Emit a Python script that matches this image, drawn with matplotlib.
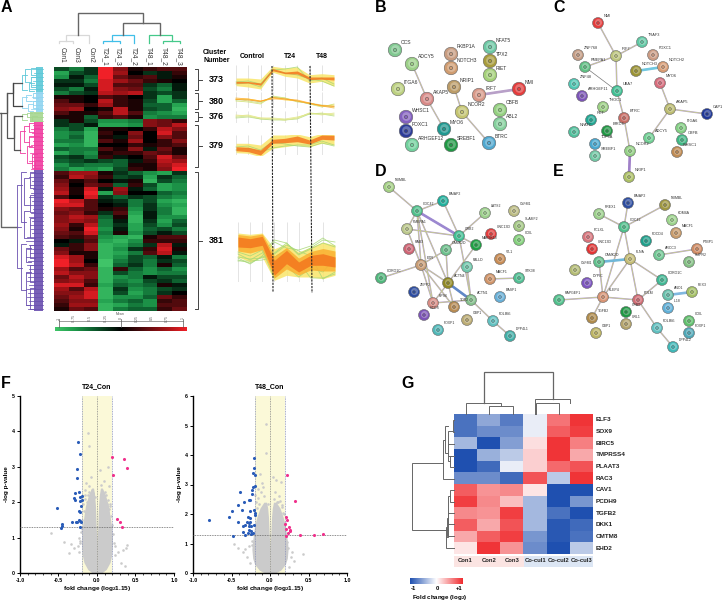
import matplotlib
matplotlib.use("Agg")
import matplotlib.pyplot as plt
from matplotlib.colors import LinearSegmentedColormap
from matplotlib.patches import Rectangle
import numpy as np

plt.rcParams["font.family"] = ["Liberation Sans", "DejaVu Sans"]
plt.rcParams["mathtext.fontset"] = "custom"
plt.rcParams["mathtext.bf"] = "Liberation Sans:bold"

W, H = 722, 600

# ---- panel A heatmap
a_cols = ["Con1", "Con3", "Con2", "T24_1", "T24_3", "T24_2", "T48_1", "T48_2", "T48_3"]
a_matrix = [
    [-3, -5, -2, 9, 5, 1, 2, 3, 3], [-7, -3, -2, 9, 6, 0, -2, -1, 2], [-6, -1, -4, 9, 4, 2, 3, -1, 1],
    [-2, -2, -5, 8, 6, 4, 2, 1, 0], [-1, -1, -3, 8, 3, 3, -2, -4, -1], [-3, -5, -1, 8, 5, 4, -3, -5, -1],
    [-5, -3, -2, 7, 6, 7, -2, -3, -2], [1, 1, 0, 3, 2, 0, -2, -7, -2], [3, 1, 0, 7, 2, 1, -3, -7, -4],
    [4, 4, 2, 6, 2, 1, -4, -4, -7], [5, 6, 0, 1, 7, 1, -3, -4, -8], [3, 1, 1, 3, 7, 3, -5, -6, -7],
    [1, 1, -4, 2, 3, 1, -6, -5, -5], [-2, 1, -3, -6, -6, -5, 5, 4, 2], [-2, -3, -1, -7, -7, -6, 5, 4, 7],
    [-5, -3, -7, 1, 1, 0, 2, 7, 5], [-6, -5, -8, 2, 0, 5, 0, 8, 3], [-6, -4, -8, 1, -1, 4, 0, 5, 3],
    [-5, -5, -8, 3, 1, 6, 0, 2, 5], [-7, -6, -8, 0, 0, 2, 1, 2, 3], [-4, -5, -5, 3, 1, 5, -1, 4, 1],
    [-7, -5, -6, 1, 2, 2, 4, 3, 1], [-3, -2, -5, 2, -1, 0, 3, 8, 4], [-4, -3, -2, -3, -4, -1, 2, 7, 6],
    [-6, -4, -5, -5, -4, 1, 1, 6, 8], [-5, -7, -6, -7, -3, 2, 1, 5, 9],
    [3, 6, 6, 1, -2, -4, -6, -7, -2], [2, 7, 5, 2, -3, -2, -7, -2, -4], [4, 1, 3, 0, -1, 1, -8, -3, -5],
    [5, 0, 4, 3, -4, 2, -3, -7, -6], [6, 1, 8, -1, 6, -1, -4, -7, -6], [7, 1, 9, -7, 5, 0, 0, -4, -5],
    [3, 0, 8, -2, -4, -2, -3, -5, -6], [9, 7, 3, -1, -2, -5, -3, -7, -8], [8, 8, 3, 0, -1, -5, -2, -6, -7],
    [5, 4, 3, 1, 2, -6, -2, -5, -8], [4, 5, 2, -2, 3, -7, -1, -5, -8], [5, 7, 6, -4, 1, -8, -1, -6, -6],
    [5, 6, 5, -5, -1, -8, -2, -7, -4], [6, 2, 7, -5, -2, -7, -3, -6, -3], [5, 1, 9, -6, -1, -7, -4, -3, -5],
    [4, 3, 8, -5, 1, -6, -3, -1, -3], [3, 2, 4, -6, -7, -8, 1, 3, 3], [0, -1, 3, -7, -8, -6, 2, 2, 2],
    [-1, 2, 5, -8, -7, -5, -2, 7, -1], [4, 2, 5, -8, -6, -2, 2, 8, 1], [5, 1, 1, -8, -7, -5, 3, 7, -1],
    [8, 6, 1, -8, -6, -3, -4, -1, -5], [9, 6, 0, -9, -5, -3, -5, -2, -3], [9, 7, 2, -9, -4, -2, -5, 1, -4],
    [6, 3, 4, -8, 2, -4, -6, -4, -6], [7, 5, 5, -8, -3, -5, -6, -5, -5], [4, 7, 5, -8, -6, -5, -1, -3, -3],
    [5, 6, 3, -8, -5, -6, -3, -2, -4], [8, 8, 2, -7, -4, -5, -4, 1, -1], [6, 3, 7, -8, -2, -6, -5, -3, -2],
    [5, 5, 8, -8, -3, -7, -5, -2, 0], [4, 6, 8, -8, -6, -6, -4, 4, 2], [3, 5, 5, -7, -5, -4, -6, 2, 3],
    [2, 6, 6, -8, -7, -5, -6, 3, 3], [1, 4, 3, -8, -5, -4, -4, 2, 4],
]
a_scale_labels = ["-1", "-0.75", "-0.5", "-0.25", "0", "0.25", "0.5", "0.75", "1"]

cluster_ids = ["373", "380", "376", "379", "381"]
cluster_top = [69, 93, 112, 125, 172]
cluster_bot = [90, 109, 121, 167, 309]

# ---- panel A profiles (one line per gene group, condition order as a_cols)
p373_lines = [
    [-0.4, -0.3, -0.6, 0.8, 0.9, 1.1, -0.3, 0.0, -0.6],
    [-0.6, -0.5, -0.9, 0.8, 0.5, 0.3, -0.1, -0.3, -0.8],
]
p373_outer = ([0.0, 0.0, -0.1, 1.17, 1.0, 1.1, 0.33, 0.43, 0.33], [-0.77, -0.9, -1.1, 0.57, 0.17, 0.0, -0.5, -0.33, -0.83])
p373_core = ([-0.33, -0.35, -0.5, 0.95, 0.6, 0.7, 0.1, 0.1, 0.1], [-0.53, -0.5, -0.72, 0.72, 0.43, 0.4, -0.15, -0.12, -0.2])
p380_lines = [
    [0.0, 0.05, -0.2, 0.3, 0.1, -0.1, -0.4, -0.6, -0.7],
    [0.1, -0.1, -0.3, 0.3, 0.2, -0.2, -0.3, -0.5, -0.6],
    [0.1, 0.1, -0.1, 0.2, 0.0, -0.1, -0.3, -0.6, -0.5],
    [-0.1, -0.2, -0.4, 0.4, 0.2, -0.1, -0.4, -0.7, -0.4],
    [0.2, 0.1, -0.1, 0.1, 0.1, 0.0, -0.3, -0.6, -0.8],
    [0.05, 0.0, -0.15, 0.25, 0.1, -0.1, -0.35, -0.55, -0.65],
]
p380_colors = ["#b8dc80", "#c8e080", "#ffd040", "#d0e070", "#ffb030", "#ff9a20"]
p376_lines = [
    [0.0, 0.1, -0.2, -0.2, -0.3, -0.1, 0.4, 0.3, 0.3],
    [0.1, 0.2, -0.1, -0.1, -0.2, 0.0, 0.3, 0.4, 0.2],
    [-0.1, 0.0, -0.2, -0.3, -0.3, -0.2, 0.3, 0.3, 0.1],
    [0.2, 0.1, -0.1, -0.2, -0.3, -0.1, 0.4, 0.2, 0.4],
]
p379_lines = [
    [-0.2, -0.1, -0.5, 0.3, 0.1, -0.1, -0.2, 0.2, -0.1],
    [-0.5, -0.3, -0.7, -0.3, -0.1, 0.0, 0.0, 0.4, 0.0],
]
p379_outer = ([0.17, 0.17, 0.0, 1.0, 1.0, 1.1, 0.83, 1.17, 1.17], [-0.77, -0.83, -1.17, -0.33, -0.17, 0.0, -0.17, 0.17, 0.0])
p379_core = ([-0.17, -0.23, -0.5, 0.57, 0.67, 0.9, 0.5, 1.0, 0.97], [-0.57, -0.67, -1.0, 0.17, 0.23, 0.33, 0.1, 0.57, 0.5])
p381_lines = [
    [-0.6, -1.2, -0.4, 1.0, 0.4, 0.2, 0.6, 1.4, 0.6],
    [-0.2, -0.8, -0.1, 1.2, 0.9, -0.3, 0.3, 0.9, 0.5],
    [-0.9, -0.9, -0.8, -0.5, 0.2, -1.0, -2.6, -2.6, -2.2],
    [0.0, -0.4, 0.2, -2.6, -1.4, -2.5, -1.6, -2.0, -0.6],
    [-0.5, -0.7, -0.6, -0.2, 0.7, 0.1, -0.4, -2.7, -2.0],
    [-0.8, -1.1, -0.5, -0.1, 0.9, -0.2, 0.4, 1.2, 1.0],
]
p381_outer = ([1.9, 1.77, 1.9, 0.33, 0.83, 0.0, 0.5, 1.0, 0.67], [-0.5, -1.0, -0.5, -2.83, -2.33, -2.5, -2.5, -2.67, -2.33])
p381_mid = ([1.75, 1.6, 1.8, -0.4, 0.45, -0.6, 0.05, 0.35, 0.1], [0.1, -0.1, 0.25, -2.6, -1.7, -2.3, -1.8, -1.9, -1.9])
p381_core = ([1.5, 1.33, 1.57, -0.83, 0.17, -1.0, -0.33, -0.17, -0.5], [0.5, 0.43, 0.67, -2.33, -1.17, -2.0, -1.33, -1.33, -1.5])

# ---- panel A left dendrogram
left_leaf_start = [36, 38, 35, 37, 36, 34, 38, 36, 34, 37, 35, 38, 36, 34, 37, 35, 36, 33, 37, 35, 38, 34, 36, 33, 37, 35,
                   35, 33, 36, 34, 37, 35, 33, 36, 34, 37, 35, 33, 36, 34, 35, 36, 31, 30, 33, 31, 34, 30, 32, 31, 33,
                   30, 32, 31, 33, 30, 32, 31, 33, 30, 32]
left_groups = [
    ("#5cc8d8", 67, 92, 36, [(22, 75, 90), (25, 69, 82), (29, 83, 91), (31, 68, 75), (31, 77, 87)]),
    ("#8fd4f0", 92, 112, 36, [(22, 97, 108), (26, 95, 101), (28, 104, 111), (33, 93, 98), (33, 101, 108)]),
    ("#a5d68f", 112, 122, 30, [(22, 114, 120), (27, 113, 117), (32, 116, 121)]),
    ("#f03da0", 122, 170, 34, [(20, 131, 153), (24, 126, 142), (27, 146, 163), (29, 123, 132), (29, 136, 147), (32, 154, 168), (34, 128, 136), (35, 160, 168)]),
    ("#6a50b0", 170, 311, 34, [(16.5, 185, 268), (21, 172, 222), (21, 244, 290), (24, 178, 205), (24, 211, 238), (26, 248, 262), (26, 272, 305),
                               (30, 172, 188), (30, 195, 212), (30, 218, 238), (30, 245, 258), (30, 265, 282), (30, 288, 309)]),
]

# ---- network panels
b_names = ["CCS", "ADCY5", "FKBP1A", "NOTCH3", "NFAT5", "TPX2", "RIET", "ITGA6", "AKAP5", "NRIP1", "IRF7", "NMI", "WHSC1",
           "NCOR2", "FOXC1", "MYO6", "CBFB", "ABL2", "ARHGEF12", "SREBF1", "BTRC"]
b_x = [395, 412, 451, 451, 490, 490, 490, 398, 427, 454, 479, 519, 406, 462, 406, 444, 500, 500, 412, 451, 489]
b_y = [50, 64, 54, 68, 47, 61, 75, 89, 99, 87, 95, 89, 117, 112, 131, 129, 110, 124, 145, 145, 143]
b_colors = ["#80c890", "#9cd088", "#c89c80", "#d09c70", "#6cc8a4", "#a89c3c", "#a4d078", "#bcd080", "#d88a88", "#bc9c68",
            "#d89888", "#e43c3c", "#8460c0", "#c4c470", "#2c3c98", "#209890", "#94d080", "#84d09c", "#70d09c", "#209844", "#50a8d0"]
b_edges = [("ADCY5", "AKAP5"), ("AKAP5", "MYO6"), ("NRIP1", "NCOR2"), ("NCOR2", "BTRC"), ("IRF7", "NMI")]
b_thick = [("IRF7", "NMI", "#b8a0c8")]

c_names = ["NMI", "IRF7", "TRAF3", "ZNF768", "FOXC1", "NOTCH3", "NOTCH2", "PMEPA1", "ZNF48", "MYO6", "UBA7", "ARHGEF11", "AKAP5",
           "CAP1", "THOC1", "BTRC", "RET", "NFATC", "BIRC6", "ADCY5", "ITGA6", "CBFB", "WHSC1", "TOP3A", "SREBF1", "NCOR2", "NRIP1"]
c_x = [598, 616, 642, 578, 653, 636, 663, 585, 574, 660, 617, 582, 670, 707, 603, 624, 591, 574, 607, 649, 681, 682, 677, 595, 595, 630, 629]
c_y = [23, 56, 42, 55, 55, 71, 67, 67, 84, 83, 91, 96, 109, 114, 107, 118, 120, 132, 131, 138, 128, 140, 152, 144, 156, 151, 177]
c_colors = ["#e43c3c", "#bcc47c", "#60c8a4", "#c49c84", "#cc9c84", "#9c9434", "#d89c74", "#60c084", "#50c8b4", "#d86c7c", "#40c094",
            "#7c54b8", "#bcbc70", "#203898", "#9cd084", "#c86c64", "#20a894", "#50c09c", "#209844", "#70d094", "#84d084", "#40b884",
            "#c08c54", "#48a8d0", "#70c8a4", "#94d084", "#acc064"]
c_edges = [("NMI", "IRF7"), ("IRF7", "TRAF3"), ("IRF7", "PMEPA1"), ("IRF7", "UBA7"), ("UBA7", "BTRC"), ("BTRC", "NCOR2"), ("NCOR2", "NRIP1"),
           ("NOTCH3", "NOTCH2"), ("MYO6", "AKAP5"), ("AKAP5", "CAP1"), ("AKAP5", "ADCY5")]
c_gray_edges = [("PMEPA1", "UBA7")]
c_thick = [("NOTCH3", "NOTCH2", "#70c8e0"), ("NCOR2", "NRIP1", "#a080c8")]

d_names = ["NUMBL", "BAIAP2", "CDC42", "LATS2", "OLFM1", "SLAMF2", "PMEPA1", "UNC13D", "GRB2", "COIL", "MAP3K13", "RAB3", "CAMK2D", "VIL1",
           "EZR", "PALLD", "CORO1C", "ACTN4", "MACF1", "STK38", "ZEPP2", "BASP1", "ACTN1", "RPS6", "TOP2", "HCCS", "GBP1", "PDLIM5", "FOXP1", "DPP4L1"]
d_x = [389, 443, 417, 485, 514, 519, 407, 491, 459, 519, 476, 409, 446, 500, 421, 467, 381, 448, 490, 519, 414, 500, 471, 433, 454, 424, 467, 493, 438, 510]
d_y = [187, 201, 211, 213, 211, 226, 229, 234, 236, 240, 245, 249, 250, 259, 265, 267, 278, 283, 279, 278, 292, 297, 300, 303, 307, 315, 320, 321, 330, 336]
d_colors = ["#a4d084", "#20b09c", "#50c08c", "#9cd08c", "#bcbc84", "#a4c884", "#bcc88c", "#e43c3c", "#40c094", "#84d07c", "#20a044", "#d06474",
            "#6cc08c", "#c88c54", "#c89c74", "#70c8ac", "#50b87c", "#908824", "#d09468", "#50c094", "#2c4ca0", "#68b0d8", "#84c08c", "#d88c84",
            "#b88c54", "#7c54b8", "#bcac74", "#60c0c0", "#50b8b8", "#40b0a8"]
d_edges = [("NUMBL", "CDC42"), ("CDC42", "BAIAP2"), ("CDC42", "GRB2"), ("BAIAP2", "GRB2"), ("CDC42", "PMEPA1"), ("PMEPA1", "GRB2"), ("CDC42", "EZR"),
           ("PMEPA1", "EZR"), ("CDC42", "ACTN4"), ("LATS2", "GRB2"), ("GRB2", "MAP3K13"), ("GRB2", "CAMK2D"), ("CAMK2D", "EZR"), ("CAMK2D", "ACTN4"),
           ("MAP3K13", "ACTN4"), ("EZR", "CORO1C"), ("EZR", "ACTN4"), ("EZR", "RPS6"), ("ACTN4", "ACTN1"), ("PALLD", "ACTN1"), ("ACTN4", "TOP2"),
           ("RPS6", "ACTN1"), ("RPS6", "ACTN4"), ("ACTN1", "PDLIM5"), ("PDLIM5", "DPP4L1"), ("MACF1", "STK38"), ("EZR", "TOP2"), ("GRB2", "ACTN1"), ("CDC42", "RPS6")]
d_thick = [("CDC42", "GRB2", "#9c88d0"), ("ACTN4", "ACTN1", "#6088c8")]

e_names = ["BAIAP2", "NUMBL", "PREX1", "CDC42", "KDM4A", "MACF1", "PCLXL", "PDCD4", "UNC13D", "FLNA", "ARCC3", "PTBP1", "SLIPR2", "CAMK2D", "OLFM1",
           "CORO1C", "DYPIC", "PEX3", "ANO1", "RAPGEF1", "KLEP4", "POLM", "IL18", "CFBT", "TGFB2", "URL1", "COIL", "FOXP1", "GBP1", "PDLIM5", "DPP4L2"]
e_x = [628, 665, 599, 624, 672, 676, 588, 646, 592, 630, 659, 697, 689, 599, 575, 662, 587, 692, 668, 559, 603, 638, 668, 626, 592, 626, 689, 689, 596, 657, 673]
e_y = [203, 205, 214, 227, 220, 233, 237, 241, 249, 259, 255, 249, 262, 262, 270, 280, 283, 292, 295, 300, 297, 300, 308, 312, 318, 324, 321, 333, 333, 328, 347]
e_colors = ["#2c4ca0", "#a09840", "#9cd08c", "#50c08c", "#9cd48c", "#c89c6c", "#d8747c", "#20a08c", "#e43434", "#c4bc74", "#70c894", "#d08c64",
            "#84c084", "#60c08c", "#b4bc74", "#40b894", "#7c54c0", "#a4c064", "#68c0ac", "#50c08c", "#d89474", "#d06c74", "#60b0d8", "#209844",
            "#b08c4c", "#b4a46c", "#60c06c", "#50a8b8", "#bcb464", "#60c0c0", "#40b8b8"]
e_edges = [("BAIAP2", "CDC42"), ("PREX1", "CDC42"), ("NUMBL", "CDC42"), ("CDC42", "FLNA"), ("CDC42", "KLEP4"), ("CAMK2D", "FLNA"), ("CAMK2D", "KLEP4"),
           ("FLNA", "KLEP4"), ("FLNA", "POLM"), ("FLNA", "CORO1C"), ("CORO1C", "POLM"), ("KLEP4", "POLM"), ("KLEP4", "RAPGEF1"), ("KLEP4", "TGFB2"),
           ("ARCC3", "PTBP1"), ("ANO1", "PEX3"), ("POLM", "PDLIM5"), ("PDLIM5", "DPP4L2")]
e_thick = [("CAMK2D", "FLNA", "#70b8d8"), ("ANO1", "PEX3", "#80b8e0")]

# ---- panel F volcano
t24_blue_x = [-0.25, -0.22, -0.255, -0.255, -0.24, -0.28, -0.30, -0.285, -0.2, -0.22, -0.2, -0.22, -0.21, -0.515, -0.24, -0.22, -0.46, -0.455, -0.47, -0.32, -0.275, -0.24, -0.22, -0.21, -0.255, -0.22]
t24_blue_y = [3.70, 3.35, 2.93, 2.68, 2.29, 2.26, 2.11, 2.06, 2.18, 2.16, 2.06, 2.04, 1.88, 1.85, 1.76, 1.72, 1.39, 1.34, 1.28, 1.44, 1.45, 1.5, 1.47, 1.43, 1.43, 1.29]
t24_pink_x = [0.2, 0.355, 0.39, 0.205, 0.265, 0.3, 0.32]
t24_pink_y = [3.28, 3.21, 2.96, 2.76, 1.53, 1.43, 1.31]
t24_gray_x = [-0.12, -0.11, -0.6, -0.43, -0.34, -0.37, -0.30, -0.25, -0.22, 0.385, 0.375, 0.34, 0.36, 0.31, 0.145, 0.04, -0.08, -0.1, -0.14, -0.06, 0.05, 0.09, -0.16, -0.12, 0.12, 0.15, 0.1, -0.03, 0.17, 0.23, 0.27, -0.24,
              -0.18, -0.15, -0.13, -0.17, -0.19, -0.1, -0.08, -0.05, 0.06, 0.08, 0.1, 0.13, 0.16, 0.18, 0.19, 0.14, -0.21, -0.22, -0.23, 0.21, 0.22, 0.24, -0.16, 0.17, -0.19, 0.18]
t24_gray_y = [3.96, 3.59, 1.13, 0.87, 0.83, 0.56, 0.7, 0.75, 0.9, 0.8, 0.7, 0.65, 0.2, 0.27, 3.0, 2.9, 2.7, 2.45, 2.55, 2.35, 2.5, 2.6, 2.35, 2.2, 2.2, 2.45, 2.05, 2.15, 1.95, 0.75, 0.6, 1.0,
              1.95, 2.1, 2.0, 1.75, 1.5, 2.3, 2.15, 2.25, 2.25, 2.1, 2.3, 1.95, 1.8, 1.6, 1.35, 2.05, 1.15, 0.85, 0.6, 1.1, 0.85, 0.5, 2.2, 1.9, 1.25, 1.2]
t24_levels = [0, 0.1, 0.3, 0.5, 0.8, 1.0, 1.3, 1.6, 1.9, 2.2, 2.4]
t24_outer = [0.06, 0.12, 0.17, 0.19, 0.2, 0.2, 0.19, 0.17, 0.15, 0.11, 0.07]
t24_inner = [0, 0, 0, 0, 0.0, 0.003, 0.01, 0.015, 0.02, 0.03, 0.045]

t48_blue_x = [-0.21, -0.21, -0.225, -0.2, -0.2, -0.22, -0.24, -0.235, -0.39, -0.34, -0.42, -0.275, -0.255, -0.5, -0.365, -0.26, -0.53, -0.21, -0.2, -0.2, -0.79, -0.41, -0.285, -0.265, -0.3, -0.275, -0.255, -0.32, -0.35, -0.355, -0.33, -0.485, -0.275, -0.245, -0.21, -0.275, -0.245, -0.25, -0.29, -0.22]
t48_blue_y = [3.91, 3.55, 3.38, 3.32, 2.96, 2.93, 2.82, 2.68, 2.75, 2.41, 2.32, 2.48, 2.49, 2.09, 2.13, 2.09, 1.9, 2.14, 2.05, 1.96, 1.78, 1.72, 1.91, 1.86, 1.74, 1.71, 1.74, 1.63, 1.58, 1.38, 1.29, 1.27, 1.58, 1.6, 1.63, 1.46, 1.41, 1.32, 1.35, 1.35]
t48_pink_x = [0.22, 0.325, 0.21, 0.22, 0.2, 0.205, 0.245, 0.26, 0.23, 0.21, 0.26, 0.385, 0.57, 0.69]
t48_pink_y = [3.32, 2.44, 1.9, 1.8, 1.67, 1.49, 1.55, 1.46, 1.35, 1.27, 1.41, 1.28, 1.29, 1.33]
t48_gray_x = [-0.05, -0.05, -0.13, -0.1, 0.04, 0.08, -0.16, -0.19, 0.07, 0.14, -0.08, -0.03, 0.11, 0.43, 0.31, 0.28, 0.21, -0.32, -0.35, -0.47, -0.42, -0.3, -0.26, -0.24, 0.25, 0.16, 0.18,
              -0.18, -0.15, -0.12, -0.09, -0.17, 0.05, 0.09, 0.12, 0.15, 0.19, 0.17, -0.24, -0.27, 0.24, 0.27, -0.2, 0.22, -0.14, 0.13]
t48_gray_y = [5.06, 4.06, 3.36, 3.05, 3.25, 3.15, 2.85, 2.65, 2.75, 3.1, 2.6, 2.35, 2.4, 0.66, 0.4, 0.72, 0.9, 0.8, 0.7, 1.0, 0.85, 0.55, 0.35, 0.95, 0.2, 2.25, 2.0,
              2.4, 2.55, 2.75, 2.9, 2.2, 2.5, 2.4, 2.6, 2.3, 1.7, 2.05, 1.1, 0.9, 0.85, 0.55, 1.25, 1.05, 2.35, 2.45]
t48_levels = [0, 0.1, 0.3, 0.5, 0.8, 1.0, 1.3, 1.6, 1.9, 2.2, 2.4]
t48_outer = [0.07, 0.14, 0.2, 0.225, 0.235, 0.23, 0.215, 0.2, 0.17, 0.13, 0.08]
t48_inner = [0, 0, 0, 0, 0.0, 0.003, 0.01, 0.015, 0.02, 0.03, 0.045]

# ---- panel G heatmap
g_genes = ["ELF3", "SOX9", "BIRC5", "TMPRSS4", "PLAAT3", "RAC3", "CAV1", "PCDH9", "TGFB2", "DKK1", "CMTM8", "EHD2"]
g_samples = ["Con1", "Con2", "Con3", "Co-cul1", "Co-cul2", "Co-cul3"]
g_matrix = [
    [-0.8, -0.5, -0.75, -0.1, 0.65, 0.95],
    [-0.8, -0.65, -0.65, -0.1, 0.75, 0.9],
    [-0.4, -1, -0.55, 0.15, 0.95, 0.6],
    [-1, -0.45, -0.3, 0.22, 0.95, 0.4],
    [-1, -0.85, -0.1, 0.22, 0.7, 0.8],
    [-0.65, -0.65, -0.85, 0.8, -0.3, 0.95],
    [0.75, 0.5, 0.55, 0.12, -1, -1],
    [0.9, 0.55, 0.3, -0.4, -1, -0.6],
    [0.55, 0.5, 0.9, -0.4, -0.8, -1],
    [0.75, 0.4, 0.8, -0.4, -0.95, -0.85],
    [0.4, 0.75, 0.9, -0.6, -0.95, -0.8],
    [0.12, 0.95, 0.5, -0.65, -1, -0.3],
]


def px_axes(fig, x0, y0, x1, y1):
    return fig.add_axes([x0 / W, 1 - y1 / H, (x1 - x0) / W, (y1 - y0) / H])


def link(ax, x0, x1, y_top, y0, y1, color, lw=0.9):
    ax.plot([x0, x0, x1, x1], [y0, y_top, y_top, y1], color=color, lw=lw, solid_joinstyle="miter", zorder=3)


def profile(fig, x0, x1, y_mid, half, lines=(), line_colors=None, outer=None, core=None, mid=None):
    pax = px_axes(fig, x0, y_mid - half, x1, y_mid + half)
    pax.set_xlim(0, 8)
    pax.set_ylim(-half / 10, half / 10)
    pax.axis("off")
    xs = np.arange(9)
    pax.vlines(xs, -half / 10, half / 10, color="#e4e4e4", lw=0.7, zorder=0)
    if outer:
        pax.fill_between(xs, outer[1], outer[0], color="#f8e66a", alpha=0.85, lw=0, zorder=1)
    for i, vals in enumerate(lines):
        col = line_colors[i] if line_colors else "#a8d878"
        pax.plot(xs, vals, color=col, lw=0.6, alpha=0.85, zorder=2, clip_on=False)
    if mid:
        pax.fill_between(xs, mid[1], mid[0], color="#fbb030", alpha=0.85, lw=0, zorder=2.5)
    if core:
        pax.fill_between(xs, core[1], core[0], color="#f4761e", alpha=0.85, lw=0, zorder=3)


def network(ax, names, xs, ys, colors, edges, size, fs, gray_edges=(), thick=()):
    pos = dict(zip(names, zip(xs, ys)))
    for a, b in edges:
        xa, ya = pos[a]
        xb, yb = pos[b]
        ax.plot([xa, xb], [ya, yb], color="#b8a0d8", lw=1.1, zorder=2, solid_capstyle="butt")
        ax.plot([xa, xb], [ya, yb], color="#c8d878", lw=0.45, zorder=2.1, solid_capstyle="butt")
    for a, b in gray_edges:
        ax.plot([pos[a][0], pos[b][0]], [pos[a][1], pos[b][1]], color="#777777", lw=0.5, zorder=2)
    for a, b, col in thick:
        ax.plot([pos[a][0], pos[b][0]], [pos[a][1], pos[b][1]], color=col, lw=1.9, zorder=2.2, solid_capstyle="butt")
    ys_up = [y - size ** 0.5 * 0.14 for y in ys]
    ax.scatter(xs, ys, s=size, c=colors, edgecolors="#666666", linewidths=0.4, zorder=4)
    ax.scatter(xs, ys_up, s=size * 0.42, c="white", alpha=0.28, linewidths=0, zorder=5)
    ax.scatter(xs, ys, s=size * 0.06, c=colors, edgecolors="#444444", linewidths=0.3, zorder=6)
    for n, x, y in zip(names, xs, ys):
        ax.text(x + 6, y - 7, n, fontsize=fs, color="#333333", va="center", ha="left", zorder=7)


def volcano(fig, x0, y0, x1, y1, title, ymax, levels, outer, inner, gx, gy, bx, by, px, py, thresh):
    ax = px_axes(fig, x0, y0, x1, y1)
    ax.set_xlim(-1, 1)
    ax.set_ylim(0, ymax)
    ax.axvspan(-0.2, 0.2, color="#fbf9d8", lw=0, zorder=0)
    levels = np.array(levels)
    outer = np.array(outer)
    inner = np.array(inner)
    ax.fill_betweenx(levels, -outer, -inner, color="#cbcbcb", lw=0, zorder=1)
    ax.fill_betweenx(levels, inner, outer, color="#cbcbcb", lw=0, zorder=1)
    ax.scatter(gx, gy, s=3.5, c="#cbcbcb", linewidths=0, zorder=2)
    ax.axvline(-0.2, color="#8890b8", lw=0.6, ls=(0, (1, 1)), zorder=3)
    ax.axvline(0.2, color="#8890b8", lw=0.6, ls=(0, (1, 1)), zorder=3)
    ax.axvline(0, color="#888888", lw=0.6, ls=(0, (1, 1)), zorder=3)
    ax.axhline(thresh, color="#666666", lw=0.6, ls=(0, (1, 1)), zorder=3)
    ax.scatter(bx, by, s=5, c="#2a5cb8", linewidths=0, zorder=4)
    ax.scatter(px, py, s=5, c="#f0308c", linewidths=0, zorder=4)
    for side in ["top", "right"]:
        ax.spines[side].set_visible(False)
    for side in ["left", "bottom"]:
        ax.spines[side].set_linewidth(1.0)
    ax.set_xticks([-1, -0.5, 0, 0.5, 1])
    ax.set_xticklabels(["-1.0", "-0.5", "0.0", "0.5", "1.0"])
    ax.set_xticks(np.arange(-1, 1.01, 0.1), minor=True)
    ax.set_yticks(range(ymax + 1))
    ax.tick_params(labelsize=3.8, length=2, width=0.7, pad=1.5)
    ax.tick_params(which="minor", length=1.2, width=0.5)
    for t in ax.get_xticklabels() + ax.get_yticklabels():
        t.set_fontweight("bold")
    ax.set_title(title, fontsize=5, fontweight="bold", pad=6)
    ax.set_xlabel(r"fold change (log$\mathbf{_2}$1.15)", fontsize=4.6, fontweight="bold", labelpad=1)
    ax.set_ylabel("-log p-value", fontsize=4.6, fontweight="bold", labelpad=2)


fig = plt.figure(figsize=(7.22, 6.0), dpi=100)
bg = fig.add_axes([0, 0, 1, 1])
bg.set_xlim(0, W)
bg.set_ylim(H, 0)
bg.axis("off")

# panel letters
for letter, lx, ly in [("A", 1, 7), ("B", 375, 7), ("C", 553, 7), ("D", 375, 172), ("E", 553, 172), ("F", 1, 383), ("G", 401, 383)]:
    bg.text(lx, ly, letter, fontsize=11.5, fontweight="bold", va="center", ha="left")

# A heatmap, mid greens and reds stay dark as in the source scale
rg = LinearSegmentedColormap.from_list("rg", [(0.0, "#40c468"), (0.14, "#1f9c4c"), (0.3, "#0c5a2c"), (0.5, "#000000"),
                                              (0.7, "#620c10"), (0.86, "#aa1418"), (1.0, "#f02028")])
hax = px_axes(fig, 54, 67, 187, 311)
hax.imshow(a_matrix, cmap=rg, vmin=-9, vmax=9, aspect="auto", interpolation="nearest")
hax.axis("off")

col_x = [62, 76, 91, 105, 118, 134, 149, 164, 179]
for name, x in zip(a_cols, col_x):
    bg.text(x, 47, name, fontsize=4.8, rotation=270, ha="center", va="top", color="#333333")

# A top dendrogram
link(bg, 59, 73, 41, 43, 43, "#d8d8d8")
link(bg, 66, 89, 35, 41, 43, "#d8d8d8")
link(bg, 103, 120, 41, 43, 43, "#40bfe8")
link(bg, 112, 134, 35, 41, 43, "#40bfe8")
link(bg, 163, 180, 41, 43, 43, "#45c98a")
link(bg, 149, 172, 35, 43, 41, "#45c98a")
link(bg, 123, 160, 23, 35, 35, "#666666", 1.0)
link(bg, 78, 143, 13, 35, 23, "#666666", 1.0)

# A left dendrogram
for color, top, bot, fill_x, brackets in left_groups:
    bg.add_patch(Rectangle((fill_x, top), 43 - fill_x, bot - top, color=color, alpha=0.9, lw=0, zorder=1))
    for x, y0, y1 in brackets:
        bg.plot([x + 5, x, x, x + 5], [y0, y0, y1, y1], color=color, lw=0.6, zorder=2)
row_h = (311 - 67) / len(a_matrix)
group_color = [next(g[0] for g in left_groups if g[1] <= 67 + (i + 0.5) * row_h < g[2]) for i in range(len(a_matrix))]
for i, sx in enumerate(left_leaf_start):
    yy = 67 + (i + 0.5) * row_h
    bg.plot([sx - 4, 43], [yy, yy], color=group_color[i], lw=0.55, zorder=2)
bg.plot([0, 1, 1, 16.5], [113, 113, 227, 227], color="#666666", lw=1.0, zorder=3)
bg.plot([1, 7, 7, 13, 13, 22], [113, 113, 93, 93, 83, 83], color="#555555", lw=0.9, zorder=3)
bg.plot([13, 13, 22], [83, 106, 106], color="#444444", lw=0.9, zorder=3)
bg.plot([7, 7, 14, 14, 22], [93, 138, 138, 116, 116], color="#555555", lw=0.9, zorder=3)
bg.plot([14, 14, 20], [116, 150, 150], color="#555555", lw=0.9, zorder=3)
bg.plot([16.5, 21], [227, 227], color="#6a50b0", lw=0.6, zorder=3)

# A cluster brackets
bg.text(203, 52, "Cluster", fontsize=5, fontweight="bold", va="center")
bg.text(203, 60, "Number", fontsize=5, fontweight="bold", va="center")
for cid, top, bot in zip(cluster_ids, cluster_top, cluster_bot):
    mid_y = (top + bot) / 2
    bg.plot([195, 198, 198, 195], [top, top, bot, bot], color="#444444", lw=0.7)
    bg.plot([198, 202], [mid_y, mid_y], color="#444444", lw=0.7)
    bg.text(209, mid_y, cid, fontsize=6.5, fontweight="bold", va="center")
for label, lx in [("Control", 252), ("T24", 290), ("T48", 322)]:
    bg.text(lx, 56, label, fontsize=5, fontweight="bold", ha="center", va="center")

# A profiles
profile(fig, 236, 334, 78, 13, p373_lines, None, p373_outer, p373_core)
profile(fig, 236, 334, 100, 8, p380_lines, p380_colors)
profile(fig, 236, 334, 117, 6, p376_lines, ["#c8e080", "#e0e880", "#b8dc80", "#e8e890"])
profile(fig, 236, 334, 145, 10, p379_lines, None, p379_outer, p379_core)
profile(fig, 238, 335, 252, 30, p381_lines, None, p381_outer, p381_core, p381_mid)
bg.set_zorder(5)
bg.patch.set_visible(False)
bg.plot([272, 273], [66, 292], color="#222222", lw=0.8, ls=(0, (2, 1)), zorder=9)
bg.plot([310, 312], [66, 293], color="#222222", lw=0.8, ls=(0, (2, 1)), zorder=9)

# A colour scale
sax = px_axes(fig, 55, 327, 187, 331)
sax.imshow([np.linspace(-9, 9, 256)], cmap=rg, vmin=-9, vmax=9, aspect="auto")
sax.axis("off")
bg.plot([59, 183], [321, 321], color="#777777", lw=0.5)
scale_x = [59, 74, 90, 106, 121, 137, 152, 167, 183]
for lab, x in zip(a_scale_labels, scale_x):
    bg.text(x, 318, lab, fontsize=2.5, ha="center", va="center", rotation=90, color="#555555")
for x in [59, 121, 183]:
    bg.plot([x, x], [319, 327], color="#555555", lw=0.5)
bg.text(120, 314, "Mean", fontsize=2.5, ha="center", va="center", color="#555555")

# networks
network(bg, b_names, b_x, b_y, b_colors, b_edges, 95, 3.6, thick=b_thick)
network(bg, c_names, c_x, c_y, c_colors, c_edges, 62, 2.8, c_gray_edges, c_thick)
network(bg, d_names, d_x, d_y, d_colors, d_edges, 62, 2.5, thick=d_thick)
network(bg, e_names, e_x, e_y, e_colors, e_edges, 62, 2.5, thick=e_thick)

# F volcano plots
volcano(fig, 20, 396, 174, 573, "T24_Con", 5, t24_levels, t24_outer, t24_inner, t24_gray_x, t24_gray_y,
        t24_blue_x, t24_blue_y, t24_pink_x, t24_pink_y, 1.3)
volcano(fig, 193, 396, 347, 573, "T48_Con", 6, t48_levels, t48_outer, t48_inner, t48_gray_x, t48_gray_y,
        t48_blue_x, t48_blue_y, t48_pink_x, t48_pink_y, 1.3)

# G heatmap
br = LinearSegmentedColormap.from_list("br", ["#1f50b0", "#ffffff", "#f02a2e"])
gax = px_axes(fig, 454, 414, 593, 554)
gax.imshow(g_matrix, cmap=br, vmin=-1, vmax=1, aspect="auto", interpolation="nearest")
gax.axis("off")
g_cell_w = (593 - 454) / len(g_samples)
g_cell_h = (554 - 414) / len(g_genes)
for i, gene in enumerate(g_genes):
    bg.text(596, 414 + (i + 0.5) * g_cell_h, gene, fontsize=4.6, fontweight="bold", va="center", color="#222222")
for j, sample in enumerate(g_samples):
    strip = "#fbe4e2" if j < 3 else "#dce6f4"
    bg.add_patch(Rectangle((454 + j * g_cell_w, 556), g_cell_w, 11, color=strip, lw=0))
    bg.text(454 + (j + 0.5) * g_cell_w, 560, sample, fontsize=4.2, fontweight="bold", ha="center", va="center", color="#222222")

# G dendrograms
link(bg, 489, 513, 406, 414, 414, "#666666", 0.7)
link(bg, 466, 501, 403, 414, 406, "#666666", 0.7)
link(bg, 536, 559, 403, 414, 414, "#666666", 0.7)
link(bg, 535, 570, 399, 414, 403, "#666666", 0.7)
link(bg, 484, 553, 372, 403, 399, "#666666", 0.9)


def hlink(ax, x_v, y0, y1, x0, x1):
    ax.plot([x0, x_v, x_v, x1], [y0, y0, y1, y1], color="#666666", lw=0.7, solid_joinstyle="miter")


hlink(bg, 453, 420, 432, 454, 454)
hlink(bg, 448, 431, 456, 453, 454)
hlink(bg, 450, 456, 467, 454, 454)
hlink(bg, 448, 444, 461, 454, 450)
hlink(bg, 445, 426, 453, 448, 448)
hlink(bg, 443, 440, 479, 445, 454)
hlink(bg, 450, 490, 502, 454, 454)
hlink(bg, 448, 513, 524, 454, 454)
hlink(bg, 447, 518, 536, 448, 454)
hlink(bg, 446, 527, 548, 447, 454)
hlink(bg, 448, 496, 537, 450, 446)
hlink(bg, 412, 463, 530, 443, 447)

# G colour scale
cax = px_axes(fig, 410, 578, 463, 584)
cax.imshow([np.linspace(-1, 1, 256)], cmap=br, vmin=-1, vmax=1, aspect="auto")
cax.axis("off")
bg.text(413, 588, "-1", fontsize=4.2, fontweight="bold", ha="center", va="center")
bg.text(437.5, 588, "0", fontsize=4.2, fontweight="bold", ha="center", va="center")
bg.text(459, 588, "+1", fontsize=4.2, fontweight="bold", ha="center", va="center")
bg.text(440, 597, r"Fold change (log$\mathbf{_2}$)", fontsize=4.4, fontweight="bold", ha="center", va="center")

fig.savefig("out.png", dpi=100, facecolor="white")
plt.close(fig)
